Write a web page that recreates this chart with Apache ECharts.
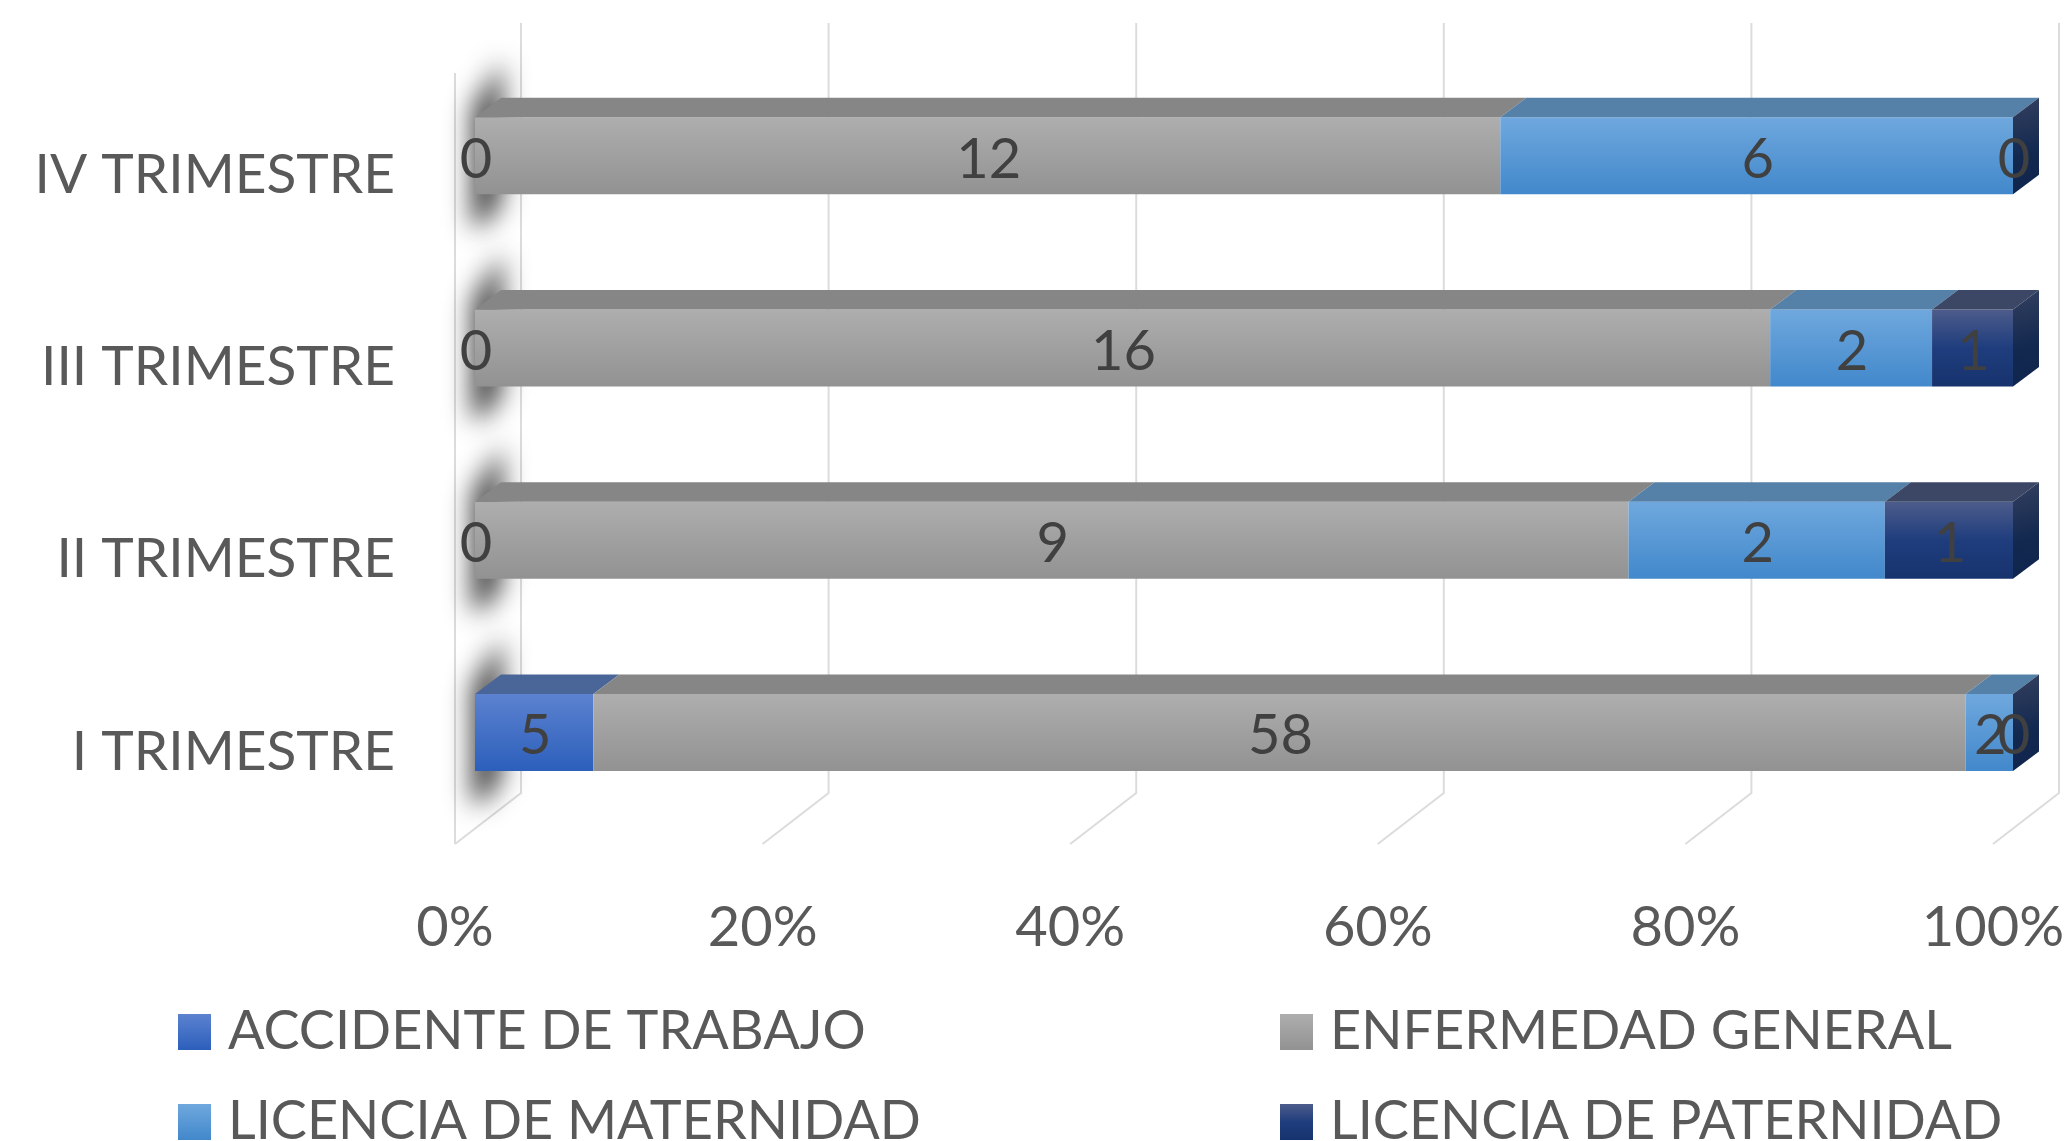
<!DOCTYPE html>
<html>
<head>
<meta charset="utf-8">
<style>html,body{margin:0;padding:0;background:#fff;overflow:hidden}#c{width:2071px;height:1141px}</style>
<script src="https://cdn.jsdelivr.net/npm/echarts@6/dist/echarts.min.js"></script>
</head>
<body>
<div id="c"></div>
<script>
const categories = ['I TRIMESTRE', 'II TRIMESTRE', 'III TRIMESTRE', 'IV TRIMESTRE'];
const accidente = [5, 0, 0, 0];
const enfermedad = [58, 9, 16, 12];
const maternidad = [2, 2, 2, 6];
const paternidad = [0, 1, 1, 0];
const xTicks = [0, 20, 40, 60, 80, 100];
const seriesNames = ['ACCIDENTE DE TRABAJO', 'ENFERMEDAD GENERAL', 'LICENCIA DE MATERNIDAD', 'LICENCIA DE PATERNIDAD'];

const FONT = 'Lato';
const GREY = '#595959';
const grad = (a, b) => ({type: 'linear', x: 0, y: 0, x2: 0, y2: 1, colorStops: [{offset: 0, color: a}, {offset: 1, color: b}]});
const looks = [
  {front: grad('#5c82d0', '#2c5fbb'), top: '#4a6598'},
  {front: grad('#aeaeae', '#929292'), top: '#868686'},
  {front: grad('#6fa8de', '#4288cb'), top: '#5580a8'},
  {front: {type: 'linear', x: 0, y: 0, x2: 0, y2: 1, colorStops: [{offset: 0, color: '#4d5c8b'}, {offset: 0.5, color: '#1f3d7d'}, {offset: 1, color: '#17336e'}]}, top: '#3c4766'}
];
const sideFill = {type: 'linear', x: 0, y: 0, x2: 1, y2: 1, colorStops: [{offset: 0, color: '#34405f'}, {offset: 0.6, color: '#12284f'}, {offset: 1, color: '#10254d'}]};

const SHIFT = 20, DX = 26, DY = 19.5, UP = 58, DOWN = 19;

const groups = [accidente, enfermedad, maternidad, paternidad];
const totals = categories.map((_, i) => groups.reduce((s, g) => s + g[i], 0));
function rowsFor(k) {
  return categories.map((_, i) => {
    let before = 0;
    for (let j = 0; j < k; j++) before += groups[j][i];
    return [i, before / totals[i] * 100, (before + groups[k][i]) / totals[i] * 100, groups[k][i]];
  });
}

function renderBar(k) {
  return function (params, api) {
    const yc = api.coord([0, api.value(0)])[1];
    const x0 = api.coord([api.value(1), api.value(0)])[0] + SHIFT;
    const x1 = api.coord([api.value(2), api.value(0)])[0] + SHIFT;
    const t = yc - UP, b = yc + DOWN;
    const children = [];
    if (x1 > x0) {
      children.push({type: 'rect', shape: {x: x0, y: t, width: x1 - x0, height: b - t}, style: {fill: looks[k].front}});
      children.push({type: 'polygon', shape: {points: [[x0, t], [x0 + DX, t - DY], [x1 + DX, t - DY], [x1, t]]}, style: {fill: looks[k].top}});
    }
    if (k === 3) {
      children.push({type: 'polygon', shape: {points: [[x1, t], [x1 + DX, t - DY], [x1 + DX, b - DY], [x1, b]]}, style: {fill: sideFill}});
    }
    children.push({type: 'text', z2: 100, style: {
      x: (x0 + x1) / 2 + 1, y: yc - 15.5, text: String(api.value(3)), align: 'center', verticalAlign: 'middle',
      font: '56px ' + FONT, fill: '#404040'
    }});
    return {type: 'group', children};
  };
}

function renderGrid(params, api) {
  const v = api.value(0);
  const p = api.coord([v, 0]);
  const floorY = params.coordSys.y + params.coordSys.height - 4;
  const x = p[0];
  const line = {stroke: '#dcdcdc', lineWidth: 2, fill: null};
  const children = [
    {type: 'polyline', shape: {points: [[x, floorY], [x + 66, floorY - 51], [x + 66, 23]]}, style: line}
  ];
  if (v === 0) {
    children.push({type: 'line', shape: {x1: x, y1: floorY, x2: x, y2: 73}, style: line});
  }
  return {type: 'group', children};
}

function renderShadow(params, api) {
  const yc = api.coord([0, api.value(0)])[1];
  const x = api.coord([0, api.value(0)])[0] + SHIFT;
  const t = yc - UP, b = yc + DOWN;
  const OFF = 4000;
  const pts = [[x - 3, t - 8], [x + 27, t - 56], [x + 27, b + 6], [x + 10, b + 30], [x - 3, b + 32]].map(q => [q[0] - OFF, q[1]]);
  return {type: 'polygon', shape: {points: pts}, style: {fill: '#333', shadowColor: 'rgba(55,55,55,0.95)', shadowBlur: 26, shadowOffsetX: OFF, shadowOffsetY: 0}};
}

const barSeries = seriesNames.map((name, k) => ({
  name, type: 'custom', coordinateSystem: 'cartesian2d', clip: false, silent: true,
  renderItem: renderBar(k), encode: {x: [1, 2], y: 0},
  itemStyle: {color: looks[k].front},
  data: rowsFor(k), z: 5
}));

const legendText = {fontFamily: FONT, fontSize: 54, color: GREY, padding: [0, 0, 0, 12]};
function legendItem(k, left, top) {
  return {
    icon: 'rect', itemWidth: 33, itemHeight: 36, selectedMode: false, padding: 0,
    textStyle: legendText, left, top,
    data: [{name: seriesNames[k], itemStyle: {color: looks[k].front}}]
  };
}

const chart = echarts.init(document.getElementById('c'), null, {renderer: 'canvas', width: 2071, height: 1141});
chart.setOption({
  backgroundColor: '#fff',
  animation: false,
  grid: {left: 455, right: 78, top: 79, bottom: 293, containLabel: false},
  xAxis: {
    type: 'value', min: 0, max: 100, interval: 20,
    axisLine: {show: false}, axisTick: {show: false}, splitLine: {show: false},
    axisLabel: {formatter: '{value}%', fontFamily: FONT, fontSize: 56, color: GREY, margin: 52}
  },
  yAxis: {
    type: 'category', data: categories,
    axisLine: {show: false}, axisTick: {show: false}, splitLine: {show: false},
    axisLabel: {fontFamily: FONT, fontSize: 55, color: GREY, margin: 60}
  },
  legend: [
    legendItem(0, 178, 1005),
    legendItem(2, 178, 1095),
    legendItem(1, 1280, 1005),
    legendItem(3, 1280, 1095)
  ],
  series: [
    {type: 'custom', coordinateSystem: 'cartesian2d', clip: false, silent: true, renderItem: renderGrid,
     encode: {x: 0}, data: xTicks.map(v => [v]), z: 1},
    {type: 'custom', coordinateSystem: 'cartesian2d', clip: false, silent: true, renderItem: renderShadow,
     encode: {y: 0}, data: categories.map((_, i) => [i]), z: 2}
  ].concat(barSeries)
});
</script>
</body>
</html>
